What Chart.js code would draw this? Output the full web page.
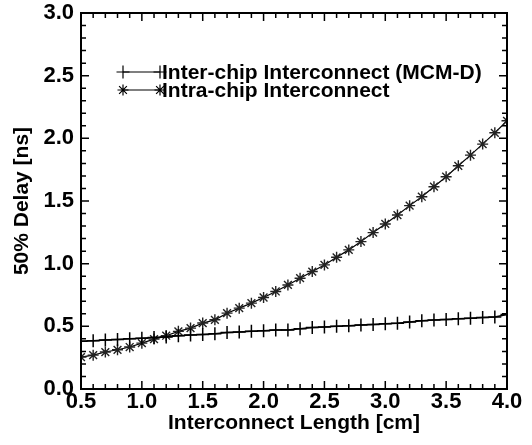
<!DOCTYPE html>
<html>
<head>
<meta charset="utf-8">
<script src="https://cdn.jsdelivr.net/npm/chart.js@4"></script>
<style>
  html, body { margin: 0; padding: 0; background: #fff; }
  #chart { display: block; }
</style>
</head>
<body>
<canvas id="chart" width="532" height="445"></canvas>
<script>
// interconnect length [cm]
const lengths = [0.5, 0.6, 0.7, 0.8, 0.9, 1.0, 1.1, 1.2, 1.3, 1.4, 1.5, 1.6, 1.7, 1.8, 1.9, 2.0, 2.1, 2.2,
	2.3, 2.4, 2.5, 2.6, 2.7, 2.8, 2.9, 3.0, 3.1, 3.2, 3.3, 3.4, 3.5, 3.6, 3.7, 3.8, 3.9, 4.0];

// 50% delay [ns]
const interChip = [0.38, 0.385, 0.39, 0.395, 0.4, 0.405, 0.41, 0.415, 0.425, 0.43, 0.435, 0.44, 0.45, 0.455,
	0.46, 0.465, 0.47, 0.47, 0.48, 0.49, 0.495, 0.5, 0.505, 0.51, 0.515, 0.52, 0.525, 0.535, 0.545, 0.55,
	0.555, 0.56, 0.565, 0.57, 0.575, 0.595];
const intraChip = [0.255, 0.27, 0.295, 0.313, 0.335, 0.366, 0.398, 0.425, 0.46, 0.486, 0.526, 0.552, 0.605,
	0.645, 0.685, 0.73, 0.778, 0.83, 0.884, 0.937, 0.99, 1.051, 1.11, 1.176, 1.248, 1.317, 1.388, 1.463,
	1.534, 1.614, 1.694, 1.781, 1.866, 1.954, 2.044, 2.14];

const seriesNames = ["Inter-chip Interconnect (MCM-D)", "Intra-chip Interconnect"];
const xTicks = [0.5, 1.0, 1.5, 2.0, 2.5, 3.0, 3.5, 4.0];
const yTicks = [0.0, 0.5, 1.0, 1.5, 2.0, 2.5, 3.0];

const FONT = "'Liberation Sans', Arial, sans-serif";

// frame + inward ticks on all four sides
const framePlugin = {
	id: "frame",
	afterDraw(chart) {
		const { ctx, chartArea: a, scales } = chart;
		ctx.save();
		ctx.strokeStyle = "#000";
		ctx.lineWidth = 2;
		ctx.strokeRect(a.left, a.top, a.right - a.left, a.bottom - a.top);
		ctx.lineWidth = 1.5;
		ctx.beginPath();
		for (let i = 5; i <= 40; i++) {
			const x = scales.x.getPixelForValue(i / 10);
			const len = i % 5 === 0 ? 8 : 5;
			ctx.moveTo(x, a.bottom); ctx.lineTo(x, a.bottom - len);
			ctx.moveTo(x, a.top); ctx.lineTo(x, a.top + len);
		}
		for (let i = 0; i <= 30; i++) {
			const y = scales.y.getPixelForValue(i / 10);
			const len = i % 5 === 0 ? 8 : 5;
			ctx.moveTo(a.left, y); ctx.lineTo(a.left + len, y);
			ctx.moveTo(a.right, y); ctx.lineTo(a.right - len, y);
		}
		ctx.stroke();
		ctx.restore();
	},
};

// legend drawn inside the plot area
const insideLegend = {
	id: "insideLegend",
	afterDraw(chart) {
		const { ctx, chartArea: a } = chart;
		ctx.save();
		ctx.font = "bold 21px " + FONT;
		ctx.textBaseline = "middle";
		ctx.fillStyle = "#000";
		chart.data.datasets.forEach((ds, i) => {
			const y = a.top + 59 + i * 18;
			const x0 = a.left + 42;
			const x1 = a.left + 79;
			ctx.strokeStyle = "#000";
			ctx.lineWidth = 1.2;
			ctx.beginPath();
			ctx.moveTo(x0, y); ctx.lineTo(x1, y);
			ctx.stroke();
			[x0, x1].forEach((px) => {
				Chart.helpers.drawPoint(ctx, {
					pointStyle: ds.pointStyle, radius: ds.pointRadius, borderWidth: ds.pointBorderWidth,
				}, px, y);
			});
			ctx.fillText(seriesNames[i], x1 + 2, y + 1);
		});
		ctx.restore();
	},
};

new Chart(document.getElementById("chart"), {
	type: "line",
	data: {
		datasets: [
			{
				label: seriesNames[0],
				data: lengths.map((x, i) => ({ x, y: interChip[i] })),
				borderColor: "#000",
				borderWidth: 1.5,
				pointStyle: "cross",
				pointRadius: 6.5,
				pointBorderWidth: 1.5,
				pointBorderColor: "#000",
				fill: false,
			},
			{
				label: seriesNames[1],
				data: lengths.map((x, i) => ({ x, y: intraChip[i] })),
				borderColor: "#000",
				borderWidth: 1.2,
				pointStyle: "star",
				pointRadius: 5.5,
				pointBorderWidth: 1.4,
				pointBorderColor: "#222",
				fill: false,
			},
		],
	},
	options: {
		responsive: false,
		animation: false,
		layout: { padding: { left: 0, right: 25, top: 13, bottom: 0 } },
		plugins: { legend: { display: false }, tooltip: { enabled: false } },
		scales: {
			x: {
				type: "linear",
				min: 0.5,
				max: 4.0,
				afterBuildTicks: (scale) => { scale.ticks = xTicks.map((v) => ({ value: v })); },
				afterFit: (scale) => {
					scale.height = 56;
					scale.paddingLeft = 0;
					scale.paddingRight = 0;
				},
				grid: { display: false, drawTicks: false },
				border: { display: false },
				ticks: {
					padding: 0,
					color: "#000",
					font: { family: FONT, size: 22, weight: "bold" },
					callback: (v) => v.toFixed(1),
				},
				title: {
					display: true,
					text: "Interconnect Length [cm]",
					color: "#000",
					font: { family: FONT, size: 21, weight: "bold" },
					padding: { top: 0, bottom: 9 },
				},
			},
			y: {
				min: 0,
				max: 3.0,
				afterBuildTicks: (scale) => { scale.ticks = yTicks.map((v) => ({ value: v })); },
				afterFit: (scale) => {
					scale.width = 81;
					scale.paddingTop = 0;
					scale.paddingBottom = 0;
				},
				grid: { display: false, drawTicks: false },
				border: { display: false },
				ticks: {
					padding: 7,
					color: "#000",
					font: { family: FONT, size: 22, weight: "bold" },
					callback: (v) => v.toFixed(1),
				},
				title: {
					display: true,
					text: "50% Delay [ns]",
					color: "#000",
					font: { family: FONT, size: 21, weight: "bold" },
					padding: { top: 10, bottom: 0 },
				},
			},
		},
	},
	plugins: [framePlugin, insideLegend],
});
</script>
</body>
</html>
